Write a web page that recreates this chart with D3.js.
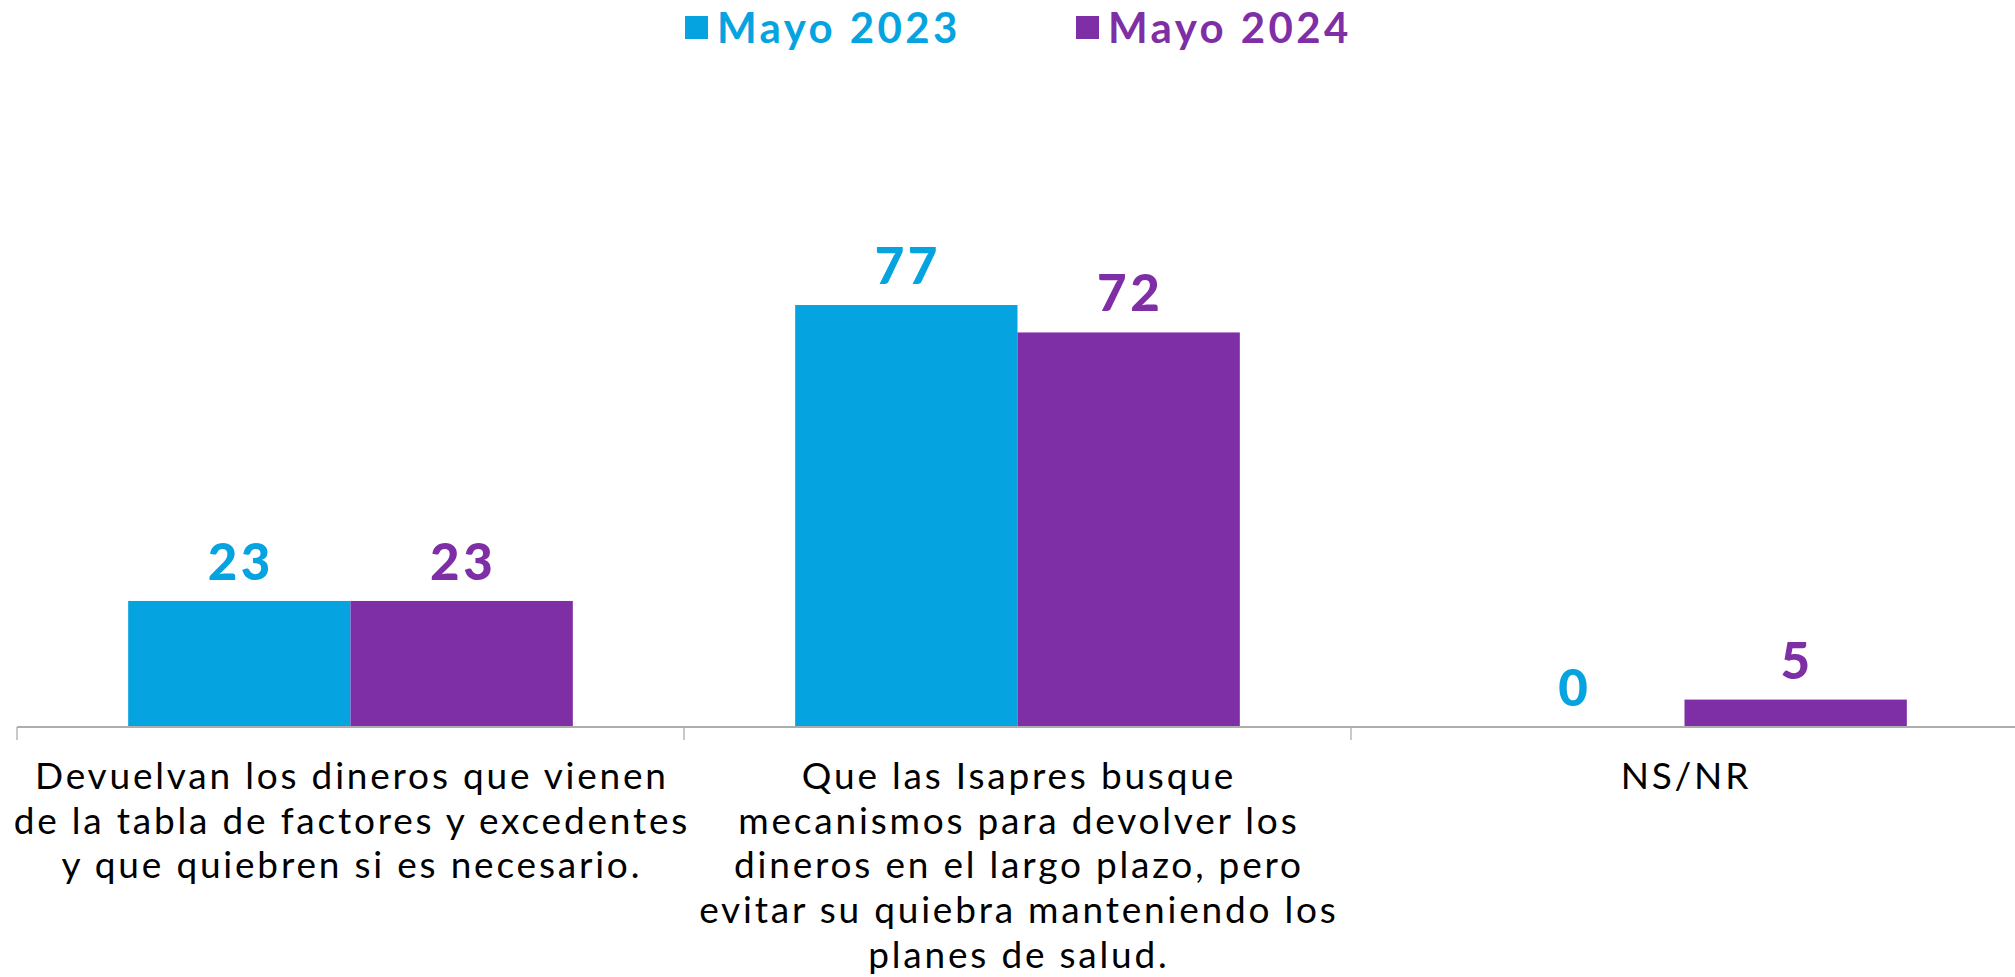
<!DOCTYPE html>
<html>
<head>
<meta charset="utf-8">
<script src="https://cdn.jsdelivr.net/npm/d3@7"></script>
<style>
  html, body { margin: 0; padding: 0; background: #fff; }
  svg { display: block; }
</style>
</head>
<body>
<svg id="chart" width="2015" height="977"></svg>
<script>
// ---- data ----
const categories = ["cat1", "cat2", "cat3"];
const categoryLines = [
  ["Devuelvan los dineros que vienen", "de la tabla de factores y excedentes", "y que quiebren si es necesario."],
  ["Que las Isapres busque", "mecanismos para devolver los", "dineros en el largo plazo, pero", "evitar su quiebra manteniendo los", "planes de salud."],
  ["NS/NR"]
];
const seriesNames = ["Mayo 2023", "Mayo 2024"];
const values2023 = [23, 77, 0];
const values2024 = [23, 72, 5];
const seriesColors = ["#05A3E0", "#7F2FA6"];

// ---- layout ----
const W = 2015, H = 977;
const svg = d3.select("#chart");
const FONT = "Lato, 'Open Sans', sans-serif";

const x = d3.scaleBand().domain(categories).range([17, 2018]).paddingInner(0).paddingOuter(0);
const xs = d3.scaleBand().domain(seriesNames).range([0, x.bandwidth()]).paddingInner(0).paddingOuter(0.5);
const y = d3.scaleLinear().domain([0, 100]).range([727, 179]);

const seriesValues = [values2023, values2024];

// bars
seriesNames.forEach((s, si) => {
  const g = svg.append("g");
  g.selectAll("rect").data(categories).join("rect")
    .attr("x", c => x(c) + xs(s))
    .attr("y", (c, i) => y(seriesValues[si][i]))
    .attr("width", xs.bandwidth())
    .attr("height", (c, i) => y(0) - y(seriesValues[si][i]))
    .attr("fill", seriesColors[si]);
  g.selectAll("text").data(categories).join("text")
    .attr("x", c => x(c) + xs(s) + xs.bandwidth() / 2 + 1.5)
    .attr("y", (c, i) => y(seriesValues[si][i]) - 21)
    .attr("text-anchor", "middle")
    .attr("font-family", FONT)
    .attr("font-weight", 900)
    .attr("font-size", 51)
    .attr("letter-spacing", 3.5)
    .attr("fill", seriesColors[si])
    .text((c, i) => seriesValues[si][i]);
});

// axis line + boundary ticks
const axisG = svg.append("g");
axisG.append("line")
  .attr("x1", x.range()[0]).attr("x2", W)
  .attr("y1", y(0)).attr("y2", y(0))
  .attr("stroke", "#ADADAD").attr("stroke-width", 2);
axisG.selectAll("line.tick").data(categories).join("line")
  .attr("class", "tick")
  .attr("x1", c => x(c)).attr("x2", c => x(c))
  .attr("y1", y(0)).attr("y2", y(0) + 13)
  .attr("stroke", "#ADADAD").attr("stroke-width", 1.3);

// category labels
const labG = svg.append("g");
categories.forEach((c, i) => {
  const cx = x(c) + x.bandwidth() / 2 + 1.4;
  const t = labG.append("text")
    .attr("x", cx)
    .attr("y", 789)
    .attr("text-anchor", "middle")
    .attr("font-family", FONT)
    .attr("font-size", 37)
    .attr("letter-spacing", 2.8)
    .attr("fill", "#000");
  categoryLines[i].forEach((ln, k) => {
    t.append("tspan")
      .attr("x", cx)
      .attr("y", 789 + k * 44.7)
      .text(ln);
  });
});

// legend
const legendX = [685, 1076];
const lg = svg.append("g");
seriesNames.forEach((s, si) => {
  lg.append("rect")
    .attr("x", legendX[si]).attr("y", 16)
    .attr("width", 23).attr("height", 23)
    .attr("fill", seriesColors[si]);
  lg.append("text")
    .attr("x", legendX[si] + 32).attr("y", 43)
    .attr("font-family", FONT)
    .attr("font-weight", 700)
    .attr("font-size", 42)
    .attr("letter-spacing", 3.4)
    .attr("fill", seriesColors[si])
    .text(s);
});
</script>
</body>
</html>
